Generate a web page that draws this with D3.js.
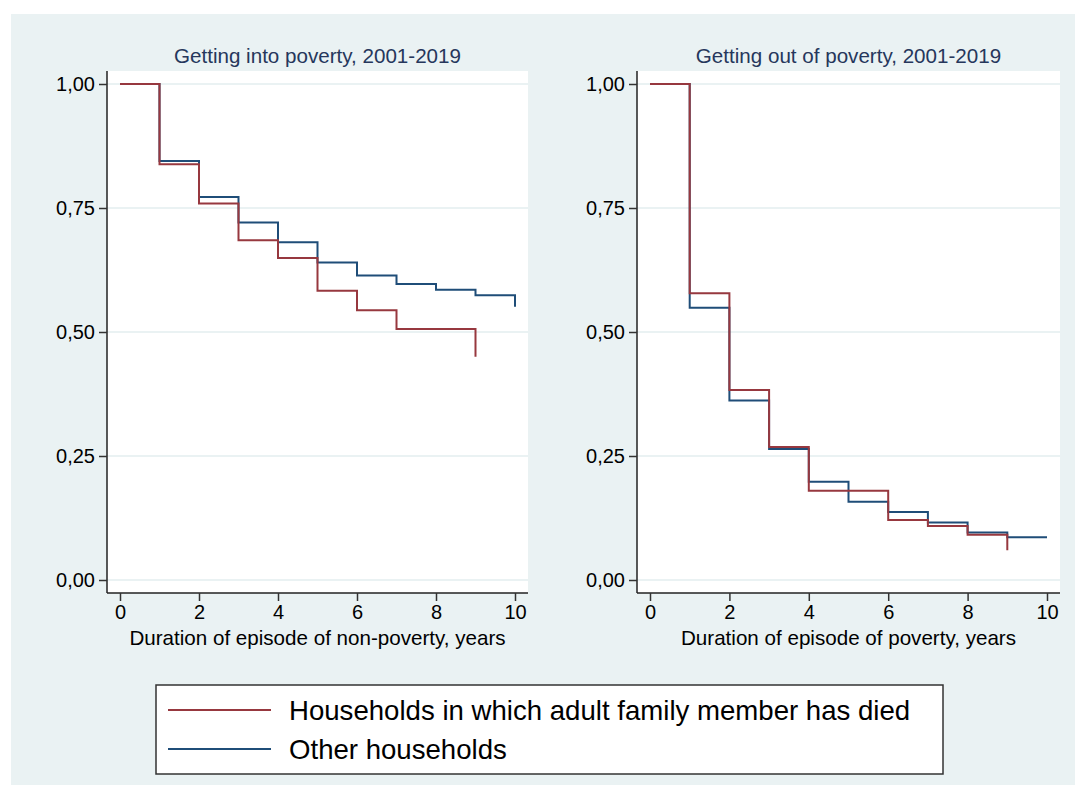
<!DOCTYPE html>
<html>
<head>
<meta charset="utf-8">
<script src="https://cdn.jsdelivr.net/npm/d3@7"></script>
<style>
  html, body { margin: 0; padding: 0; background: #ffffff; }
  svg { display: block; }
  text { font-family: "Liberation Sans", Arial, sans-serif; }
</style>
</head>
<body>
<svg id="chart" width="1075" height="785"></svg>
<script>
// Kaplan-Meier survival estimates by duration (years)
const panelTitles = ["Getting into poverty, 2001-2019", "Getting out of poverty, 2001-2019"];
const axisTitles = ["Duration of episode of non-poverty, years", "Duration of episode of poverty, years"];
const seriesNames = ["Households in which adult family member has died", "Other households"];

const xTicks = [0, 2, 4, 6, 8, 10];
const yTicks = [0, 0.25, 0.5, 0.75, 1];

// Getting into poverty
const intoDiedYears = [0, 1, 2, 3, 4, 5, 6, 7, 8, 9];
const intoDiedSurv  = [1.00, 0.838, 0.759, 0.685, 0.649, 0.583, 0.544, 0.506, 0.506, 0.450];
const intoOtherYears = [0, 1, 2, 3, 4, 5, 6, 7, 8, 9, 10];
const intoOtherSurv  = [1.00, 0.845, 0.772, 0.721, 0.681, 0.640, 0.614, 0.597, 0.585, 0.574, 0.551];

// Getting out of poverty
const outDiedYears = [0, 1, 2, 3, 4, 5, 6, 7, 8, 9];
const outDiedSurv  = [1.00, 0.578, 0.383, 0.268, 0.180, 0.180, 0.121, 0.109, 0.091, 0.060];
const outOtherYears = [0, 1, 2, 3, 4, 5, 6, 7, 8, 9, 10];
const outOtherSurv  = [1.00, 0.549, 0.362, 0.264, 0.198, 0.158, 0.137, 0.116, 0.096, 0.086, 0.086];

const colDied = "#97383f";
const colOther = "#1f4d78";
const bgCol = "#eaf2f3";
const fontStack = "'Liberation Sans', Arial, sans-serif";

const svg = d3.select("#chart");

// graph region background
svg.append("rect").attr("x", 11).attr("y", 14).attr("width", 1064).attr("height", 771).attr("fill", bgCol);

const zip = (xs, ys) => xs.map((x, i) => ({ x, y: ys[i] }));

const panels = [
  { left: 107, right: 528, title: panelTitles[0], xTitle: axisTitles[0],
    series: [zip(intoOtherYears, intoOtherSurv), zip(intoDiedYears, intoDiedSurv)] },
  { left: 637, right: 1060, title: panelTitles[1], xTitle: axisTitles[1],
    series: [zip(outOtherYears, outOtherSurv), zip(outDiedYears, outDiedSurv)] }
];
const plotTop = 71, plotBottom = 593;
const seriesColors = [colOther, colDied];
const fmt = v => d3.format(".2f")(v).replace(".", ",");

panels.forEach(p => {
  const g = svg.append("g");
  const x = d3.scaleLinear().domain([0, 10]).range([p.left + 13, p.right - 13]);
  const y = d3.scaleLinear().domain([0, 1]).range([580, 84]);

  // plot region
  g.append("rect").attr("x", p.left).attr("y", plotTop)
    .attr("width", p.right - p.left).attr("height", plotBottom - plotTop).attr("fill", "#ffffff");

  // horizontal gridlines
  g.selectAll("line.grid").data(yTicks).join("line")
    .attr("x1", p.left).attr("x2", p.right)
    .attr("y1", d => y(d)).attr("y2", d => y(d))
    .attr("stroke", bgCol).attr("stroke-width", 2);

  // y axis
  const yAxis = d3.axisLeft(y).tickValues(yTicks).tickFormat(fmt).tickSize(8).tickPadding(4);
  const ya = g.append("g").attr("transform", `translate(${p.left},0)`).call(yAxis);
  ya.select(".domain").attr("d", `M0,${plotTop}V${plotBottom}`).attr("stroke", "#222").attr("stroke-width", 1.5);
  ya.selectAll(".tick line").attr("stroke", "#333").attr("stroke-width", 1.5);
  ya.selectAll(".tick text").attr("font-size", 20).attr("fill", "#000").attr("font-family", fontStack);

  // x axis
  const xAxis = d3.axisBottom(x).tickValues(xTicks).tickFormat(d3.format("d")).tickSize(8).tickPadding(4);
  const xa = g.append("g").attr("transform", `translate(0,${plotBottom})`).call(xAxis);
  xa.select(".domain").attr("d", `M${p.left},0H${p.right}`).attr("stroke", "#222").attr("stroke-width", 1.5);
  xa.selectAll(".tick line").attr("stroke", "#333").attr("stroke-width", 1.5);
  xa.selectAll(".tick text").attr("font-size", 20).attr("fill", "#000").attr("font-family", fontStack);

  // survival step curves
  const line = d3.line().x(d => x(d.x)).y(d => y(d.y)).curve(d3.curveStepAfter);
  p.series.forEach((s, i) => {
    g.append("path").datum(s).attr("d", line)
      .attr("fill", "none").attr("stroke", seriesColors[i]).attr("stroke-width", 2);
  });

  // panel title
  g.append("text").attr("x", (p.left + p.right) / 2).attr("y", 63)
    .attr("text-anchor", "middle").attr("font-size", 20.6).attr("fill", "#26375c")
    .text(p.title);

  // x axis title
  g.append("text").attr("x", (p.left + p.right) / 2).attr("y", 645)
    .attr("text-anchor", "middle").attr("font-size", 20.6).attr("fill", "#000")
    .text(p.xTitle);
});

// legend
const lg = svg.append("g");
lg.append("rect").attr("x", 156).attr("y", 685).attr("width", 787).attr("height", 89)
  .attr("fill", "#ffffff").attr("stroke", "#333").attr("stroke-width", 1.5);
const legendItems = [
  { name: seriesNames[0], color: colDied, y: 710 },
  { name: seriesNames[1], color: colOther, y: 749 }
];
legendItems.forEach(d => {
  lg.append("line").attr("x1", 168).attr("x2", 271).attr("y1", d.y).attr("y2", d.y)
    .attr("stroke", d.color).attr("stroke-width", 2);
  lg.append("text").attr("x", 289).attr("y", d.y + 10).attr("font-size", 27.6).attr("fill", "#000")
    .text(d.name);
});
</script>
</body>
</html>
